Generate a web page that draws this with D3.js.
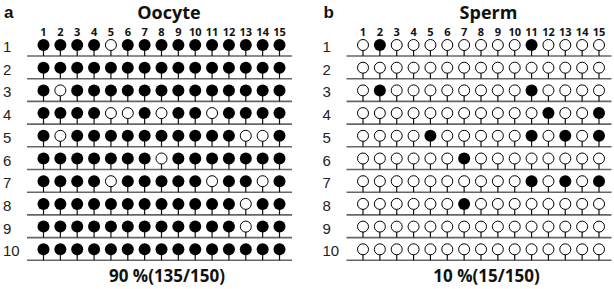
<!DOCTYPE html>
<html>
<head>
<meta charset="utf-8">
<script src="https://cdn.jsdelivr.net/npm/d3@7"></script>
<style>
  body { margin: 0; background: #fff; }
  svg { display: block; }
  .panel-letter { font-family: "Liberation Sans", Arial, sans-serif; font-weight: bold; font-size: 17px; fill: #111; }
  .panel-title { font-family: "Open Sans", "Liberation Sans", sans-serif; font-weight: bold; font-size: 18px; fill: #111; }
  .col-label { font-family: "Open Sans", "Liberation Sans", sans-serif; font-weight: bold; font-size: 11px; fill: #111; }
  .row-label { font-family: "Liberation Sans", Arial, sans-serif; font-size: 15px; fill: #222; }
  .summary { font-family: "Open Sans", "Liberation Sans", sans-serif; font-weight: bold; font-size: 17px; fill: #111; }
</style>
</head>
<body>
<svg width="614" height="289"></svg>
<script>
// CpG sites (columns) and clones (rows)
let sites = [1, 2, 3, 4, 5, 6, 7, 8, 9, 10, 11, 12, 13, 14, 15]
let clones = [1, 2, 3, 4, 5, 6, 7, 8, 9, 10]

// 1 = methylated (filled), 0 = unmethylated (open)
let oocyte = [
    [1, 1, 1, 1, 0, 1, 1, 1, 1, 1, 1, 1, 1, 1, 1],
    [1, 1, 1, 1, 1, 1, 1, 1, 1, 1, 1, 1, 1, 1, 1],
    [1, 0, 1, 1, 1, 1, 1, 1, 1, 1, 1, 1, 1, 1, 1],
    [1, 1, 1, 1, 0, 0, 1, 0, 1, 1, 0, 1, 1, 1, 1],
    [1, 0, 1, 1, 1, 1, 1, 1, 1, 1, 1, 1, 0, 0, 1],
    [1, 1, 1, 1, 1, 1, 1, 0, 1, 1, 1, 1, 1, 1, 1],
    [1, 1, 1, 1, 0, 1, 1, 1, 1, 1, 0, 1, 1, 0, 1],
    [1, 1, 1, 1, 1, 1, 1, 1, 1, 1, 1, 1, 0, 1, 1],
    [1, 1, 1, 1, 1, 1, 1, 1, 1, 1, 1, 1, 0, 1, 1],
    [1, 1, 1, 1, 1, 1, 1, 1, 1, 1, 1, 1, 1, 1, 1]
]

let sperm = [
    [0, 1, 0, 0, 0, 0, 0, 0, 0, 0, 1, 0, 0, 0, 0],
    [0, 0, 0, 0, 0, 0, 0, 0, 0, 0, 0, 0, 0, 0, 0],
    [0, 1, 0, 0, 0, 0, 0, 0, 0, 0, 1, 0, 0, 0, 0],
    [0, 0, 0, 0, 0, 0, 0, 0, 0, 0, 0, 1, 0, 0, 1],
    [0, 0, 0, 0, 1, 0, 0, 0, 0, 0, 1, 0, 1, 0, 1],
    [0, 0, 0, 0, 0, 0, 1, 0, 0, 0, 0, 0, 0, 0, 0],
    [0, 0, 0, 0, 0, 0, 0, 0, 0, 0, 1, 0, 1, 0, 1],
    [0, 0, 0, 0, 0, 0, 1, 0, 0, 0, 0, 0, 0, 0, 0],
    [0, 0, 0, 0, 0, 0, 0, 0, 0, 0, 0, 0, 0, 0, 0],
    [0, 0, 0, 0, 0, 0, 0, 0, 0, 0, 0, 0, 0, 0, 0]
]

let panels = [
    { letter: 'a', title: 'Oocyte', data: oocyte, x0: 0 },
    { letter: 'b', title: 'Sperm', data: sperm, x0: 319.5 }
]

let svg = d3.select('svg')

// shared row scale
let y = d3.scaleLinear().domain([1, 10]).range([45, 249.3])
let r = 6
let lineDrop = 11

panels.forEach(p => drawPanel(p))

function drawPanel(p) {
    let g = svg.append('g').attr('transform', `translate(${p.x0},0)`)

    let x = d3.scaleLinear().domain([1, 15]).range([43.5, 279.5])
    let lineX = [27, 292]

    // panel letter + title
    g.append('text').attr('class', 'panel-letter')
        .attr('x', 4).attr('y', 18).text(p.letter)
    g.append('text').attr('class', 'panel-title')
        .attr('x', 169).attr('y', 19).attr('text-anchor', 'middle').text(p.title)

    // column numbers
    g.selectAll('.col-label').data(sites).enter().append('text')
        .attr('class', 'col-label')
        .attr('x', d => x(d)).attr('y', 36)
        .attr('text-anchor', 'middle')
        .text(d => d)

    // rows
    let rows = g.selectAll('.row').data(p.data).enter().append('g')
        .attr('class', 'row')
        .attr('transform', (d, i) => `translate(0,${y(clones[i])})`)

    rows.append('text').attr('class', 'row-label')
        .attr('x', 3).attr('y', 7)
        .text((d, i) => clones[i])

    rows.append('line')
        .attr('x1', lineX[0]).attr('x2', lineX[1])
        .attr('y1', lineDrop).attr('y2', lineDrop)
        .attr('stroke', '#666').attr('stroke-width', 1.6)

    // stems
    rows.selectAll('.stem').data(d => d).enter().append('line')
        .attr('class', 'stem')
        .attr('x1', (d, j) => x(sites[j])).attr('x2', (d, j) => x(sites[j]))
        .attr('y1', 0).attr('y2', lineDrop)
        .attr('stroke', '#111').attr('stroke-width', 1.2)

    // lollipops
    rows.selectAll('circle').data(d => d).enter().append('circle')
        .attr('cx', (d, j) => x(sites[j]))
        .attr('cy', 0)
        .attr('r', d => d ? r : r - 0.5)
        .attr('fill', d => d ? '#000' : '#fff')
        .attr('stroke', '#000')
        .attr('stroke-width', d => d ? 0 : 1)

    // summary text
    let total = d3.sum(p.data, row => row.length)
    let meth = d3.sum(p.data, row => d3.sum(row))
    let pct = Math.round(meth / total * 100)
    g.append('text').attr('class', 'summary')
        .attr('x', 167).attr('y', 282)
        .attr('text-anchor', 'middle')
        .text(`${pct} %(${meth}/${total})`)
}
</script>
</body>
</html>
